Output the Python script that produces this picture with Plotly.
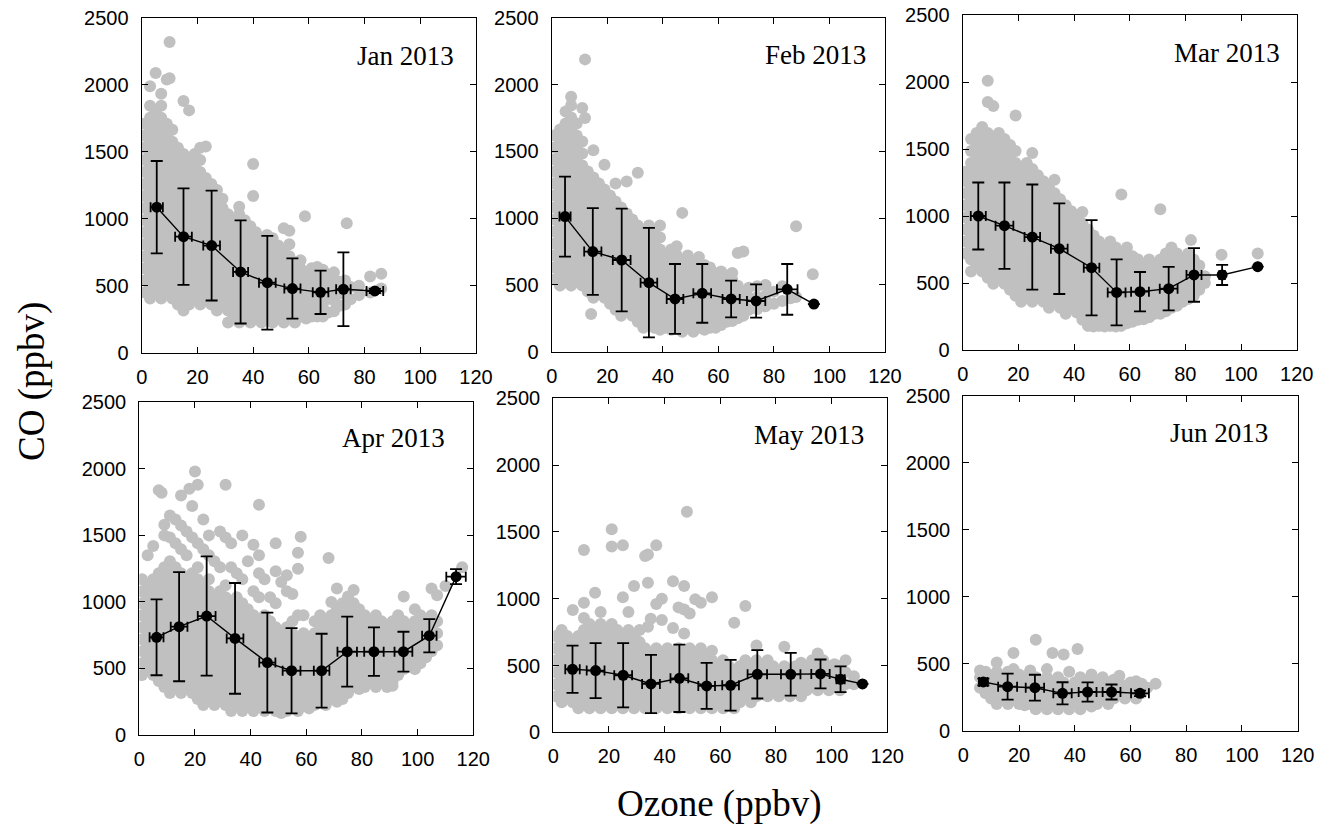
import plotly.graph_objects as go

W, H = 1333, 826

# ---------------- binned means (black) ----------------
jan_x = [5.4, 15.0, 25.1, 35.5, 45.1, 54.1, 64.2, 72.4, 83.7]
jan_y = [1087, 867, 800, 603, 523, 479, 451, 474, 461]
jan_yerr = [345, 360, 410, 385, 350, 225, 162, 275, 15]
jan_xerr = [2.2, 3.0, 3.0, 2.7, 3.0, 2.9, 2.8, 2.6, 3.0]

feb_x = [4.8, 14.8, 25.2, 35.0, 44.4, 54.2, 64.6, 73.6, 84.8, 94.4]
feb_y = [1012, 750, 687, 517, 395, 437, 395, 380, 467, 357]
feb_yerr = [300, 325, 385, 410, 262, 220, 138, 125, 190, 0]
feb_xerr = [2.0, 3.1, 3.2, 3.0, 3.0, 3.2, 3.1, 3.3, 3.7, 0]

mar_x = [5.6, 15.0, 25.0, 34.7, 46.3, 55.3, 63.7, 74.0, 83.1, 93.2, 106.0]
mar_y = [1000, 928, 843, 756, 614, 430, 435, 458, 560, 560, 622]
mar_yerr = [250, 322, 392, 338, 355, 246, 147, 162, 200, 75, 0]
mar_xerr = [2.7, 3.2, 2.8, 3.0, 2.8, 3.2, 3.2, 3.2, 2.7, 1.0, 0]

apr_x = [6.2, 14.3, 24.2, 34.4, 46.0, 54.7, 65.5, 74.7, 84.3, 94.9, 104.2, 113.8]
apr_y = [734, 814, 894, 726, 544, 483, 483, 626, 626, 626, 746, 1190]
apr_yerr = [285, 410, 448, 416, 375, 320, 278, 263, 182, 150, 125, 56]
apr_xerr = [2.5, 3.0, 3.2, 3.0, 2.9, 3.2, 2.8, 3.5, 3.5, 3.2, 2.6, 3.5]

may_x = [6.9, 15.2, 25.1, 35.1, 45.3, 55.1, 63.7, 73.3, 85.3, 96.0, 103.2, 111.1]
may_y = [472, 462, 427, 362, 404, 347, 352, 434, 434, 437, 397, 362]
may_yerr = [177, 206, 240, 218, 252, 172, 190, 181, 160, 108, 97, 0]
may_xerr = [2.6, 3.2, 3.2, 3.2, 3.2, 3.0, 3.0, 3.5, 3.5, 3.3, 1.5, 0]

jun_x = [7.2, 15.9, 25.7, 35.6, 44.6, 53.2, 63.4]
jun_y = [364, 329, 321, 279, 289, 289, 279]
jun_yerr = [25, 97, 97, 83, 72, 56, 20]
jun_xerr = [1.5, 3.4, 3.3, 3.3, 3.2, 3.2, 3.2]

# ---------------- individual observations (grey), listed column by column ----------------
jan_cloud = [
    (1, [450, 540, 630, 720, 810, 900, 990, 1080, 1170, 1260, 1350, 1440, 1530, 1620, 1710]),
    (3, [405, 495, 585, 675, 765, 855, 945, 1035, 1125, 1215, 1305, 1395, 1485, 1575, 1665, 1755, 1845, 1990]),
    (5, [450, 540, 630, 720, 810, 900, 990, 1080, 1170, 1260, 1350, 1440, 1530, 1620, 1710, 1800, 2090]),
    (7, [405, 495, 585, 675, 765, 855, 945, 1035, 1125, 1215, 1305, 1395, 1485, 1575, 1665, 1755, 1845, 1935]),
    (9, [450, 540, 630, 720, 810, 900, 990, 1080, 1170, 1260, 1350, 1440, 1530, 1620, 1710, 2040]),
    (10, [2320, 2050]),
    (11, [405, 495, 585, 675, 765, 855, 945, 1035, 1125, 1215, 1305, 1395, 1485, 1575, 1665]),
    (13, [360, 450, 540, 630, 720, 810, 900, 990, 1080, 1170, 1260, 1350, 1440, 1530]),
    (15, [315, 405, 495, 585, 675, 765, 855, 945, 1035, 1125, 1215, 1305, 1395, 1485, 1880]),
    (17, [360, 450, 540, 630, 720, 810, 900, 990, 1080, 1170, 1260, 1350, 1440, 1810]),
    (19, [405, 495, 585, 675, 765, 855, 945, 1035, 1125, 1215, 1305, 1395, 1485]),
    (21, [360, 450, 540, 630, 720, 810, 900, 990, 1080, 1170, 1260, 1350, 1440, 1530]),
    (23, [405, 495, 585, 675, 765, 855, 945, 1035, 1125, 1215, 1305, 1540]),
    (25, [360, 450, 540, 630, 720, 810, 900, 990, 1080, 1170, 1260]),
    (27, [315, 405, 495, 585, 675, 765, 855, 945, 1035, 1125, 1215]),
    (29, [360, 450, 540, 630, 720, 810, 900, 990, 1080, 1150]),
    (31, [225, 315, 405, 495, 585, 675, 765, 855, 945, 1035]),
    (33, [270, 360, 450, 540, 630, 720, 810, 900, 990]),
    (35, [225, 315, 405, 495, 585, 675, 765, 855, 945, 1035, 1090]),
    (37, [270, 360, 450, 540, 630, 720, 810, 900, 990]),
    (39, [225, 315, 405, 495, 585, 675, 765, 855, 945]),
    (40, [1410, 1170]),
    (41, [270, 360, 450, 540, 630, 720, 810, 900]),
    (43, [225, 315, 405, 495, 585, 675, 765, 855]),
    (45, [270, 360, 450, 540, 630, 720, 810, 880]),
    (47, [225, 315, 405, 495, 585, 675, 765, 855]),
    (49, [270, 360, 450, 540, 630, 720, 800]),
    (51, [225, 315, 405, 495, 585, 675, 765, 930]),
    (53, [270, 360, 450, 540, 630, 720, 810, 910]),
    (55, [225, 315, 405, 495, 585, 675]),
    (57, [270, 360, 450, 540, 630, 690]),
    (58.6, [1020]),
    (59, [255, 315, 405, 495, 585]),
    (61, [270, 360, 450, 540, 630]),
    (63, [270, 315, 405, 495, 585, 640]),
    (65, [270, 360, 450, 540, 620]),
    (67, [300, 405, 495, 585]),
    (69, [310, 390, 470, 550, 600]),
    (71, [350, 440, 530]),
    (73, [360, 450, 540]),
    (73.6, [967]),
    (75, [400, 490]),
    (78, [430, 500]),
    (82, [450, 570]),
    (86, [480, 590]),
]

feb_cloud = [
    (1, [540, 630, 720, 810, 900, 990, 1080, 1170, 1260, 1350, 1440, 1530, 1620]),
    (3, [495, 585, 675, 765, 855, 945, 1035, 1125, 1215, 1305, 1395, 1485, 1575, 1665]),
    (5, [540, 630, 720, 810, 900, 990, 1080, 1170, 1260, 1350, 1440, 1530, 1620, 1710, 1800]),
    (7, [495, 585, 675, 765, 855, 945, 1035, 1125, 1215, 1305, 1395, 1485, 1575, 1665, 1755, 1845, 1910]),
    (9, [540, 630, 720, 810, 900, 990, 1080, 1170, 1260, 1350, 1440, 1530, 1620, 1710]),
    (11, [495, 585, 675, 765, 855, 945, 1035, 1125, 1215, 1305, 1395, 1485, 1575, 1825]),
    (12, [2190, 1750]),
    (13, [450, 540, 630, 720, 810, 900, 990, 1080, 1170, 1260, 1350]),
    (14.2, [282]),
    (15, [405, 495, 585, 675, 765, 855, 945, 1035, 1125, 1215, 1305, 1510]),
    (17, [450, 540, 630, 720, 810, 900, 990, 1080, 1170, 1260]),
    (19, [405, 495, 585, 675, 765, 855, 945, 1035, 1125, 1215, 1400]),
    (21, [360, 450, 540, 630, 720, 810, 900, 990, 1080, 1170]),
    (23, [315, 405, 495, 585, 675, 765, 855, 945, 1035, 1125, 1260]),
    (25, [270, 360, 450, 540, 630, 720, 810, 900, 990, 1080]),
    (27, [315, 405, 495, 585, 675, 765, 855, 945, 1035, 1275]),
    (29, [270, 360, 450, 540, 630, 720, 810, 900, 990]),
    (31, [225, 315, 405, 495, 585, 675, 765, 855, 945, 1340]),
    (33, [180, 270, 360, 450, 540, 630, 720, 810, 900]),
    (35, [225, 315, 405, 495, 585, 675, 765, 855, 945]),
    (37, [180, 270, 360, 450, 540, 630, 720, 810, 900]),
    (39, [165, 225, 315, 405, 495, 585, 675, 765, 855, 945]),
    (41, [180, 270, 360, 450, 540, 630, 720]),
    (43, [165, 225, 315, 405, 495, 585, 675, 765]),
    (45, [180, 270, 360, 450, 540, 630, 720, 790]),
    (47, [150, 225, 315, 405, 495, 585, 675, 1040]),
    (49, [180, 270, 360, 450, 540, 630, 720]),
    (51, [150, 225, 315, 405, 495, 585, 675]),
    (53, [180, 270, 360, 450, 540, 630, 710]),
    (55, [165, 225, 315, 405, 495, 585, 650]),
    (57, [180, 270, 360, 450, 540, 630]),
    (59, [180, 225, 315, 405, 495, 585]),
    (61, [200, 270, 360, 450, 540, 600]),
    (63, [225, 315, 405, 495, 570]),
    (65, [230, 270, 360, 450, 540, 590]),
    (67, [250, 315, 405, 495, 740]),
    (69, [270, 360, 450, 750]),
    (71, [315, 405, 480]),
    (74, [320, 410, 490]),
    (77, [340, 420, 500]),
    (80, [360, 450]),
    (83, [380, 490]),
    (86, [400]),
    (88, [410, 940]),
    (94, [580]),
]

mar_cloud = [
    (1, [720, 810, 900, 990, 1080, 1170, 1260, 1330]),
    (3, [585, 675, 765, 855, 945, 1035, 1125, 1215, 1305, 1395, 1485, 1575]),
    (5, [630, 720, 810, 900, 990, 1080, 1170, 1260, 1350, 1440, 1530, 1620]),
    (7, [585, 675, 765, 855, 945, 1035, 1125, 1215, 1305, 1395, 1485, 1575, 1665]),
    (9, [540, 630, 720, 810, 900, 990, 1080, 1170, 1260, 1350, 1440, 1530, 1620, 1850, 2010]),
    (11, [495, 585, 675, 765, 855, 945, 1035, 1125, 1215, 1305, 1395, 1485, 1575, 1820]),
    (13, [540, 630, 720, 810, 900, 990, 1080, 1170, 1260, 1350, 1440, 1530, 1620]),
    (15, [495, 585, 675, 765, 855, 945, 1035, 1125, 1215, 1305, 1395, 1485, 1575]),
    (17, [450, 540, 630, 720, 810, 900, 990, 1080, 1170, 1260, 1350, 1440, 1530]),
    (19, [405, 495, 585, 675, 765, 855, 945, 1035, 1125, 1215, 1305, 1395, 1485, 1750]),
    (21, [360, 450, 540, 630, 720, 810, 900, 990, 1080, 1170, 1260, 1350]),
    (23, [405, 495, 585, 675, 765, 855, 945, 1035, 1125, 1215, 1305, 1395]),
    (25, [360, 450, 540, 630, 720, 810, 900, 990, 1080, 1170, 1260, 1350, 1470]),
    (27, [405, 495, 585, 675, 765, 855, 945, 1035, 1125, 1215, 1305]),
    (29, [360, 450, 540, 630, 720, 810, 900, 990, 1080, 1170, 1260]),
    (31, [315, 405, 495, 585, 675, 765, 855, 945, 1035, 1125, 1215]),
    (33, [360, 450, 540, 630, 720, 810, 900, 990, 1080, 1170, 1270]),
    (35, [315, 405, 495, 585, 675, 765, 855, 945, 1035, 1125]),
    (37, [270, 360, 450, 540, 630, 720, 810, 900, 990, 1080]),
    (39, [315, 405, 495, 585, 675, 765, 855, 945, 1035]),
    (41, [280, 360, 450, 540, 630, 720, 810, 900, 990]),
    (43, [225, 315, 405, 495, 585, 675, 765, 855, 945, 1030]),
    (45, [180, 270, 360, 450, 540, 630, 720, 810, 900]),
    (47, [175, 225, 315, 405, 495, 585, 675, 765, 855]),
    (49, [180, 270, 360, 450, 540, 630, 720, 810]),
    (51, [175, 225, 315, 405, 495, 585, 675, 765]),
    (53, [180, 270, 360, 450, 540, 630, 720, 810]),
    (55, [175, 225, 315, 405, 495, 585, 675, 765]),
    (57, [180, 270, 360, 450, 540, 630, 720, 1160]),
    (59, [200, 225, 315, 405, 495, 585, 675, 765]),
    (61, [210, 270, 360, 450, 540, 630, 700]),
    (63, [225, 315, 405, 495, 585, 675]),
    (65, [230, 270, 360, 450, 540, 630]),
    (67, [245, 315, 405, 495, 585, 675]),
    (69, [270, 360, 450, 540, 630]),
    (71, [270, 315, 405, 495, 585, 675, 1050]),
    (73, [290, 360, 450, 540, 630, 720]),
    (75, [315, 405, 495, 585, 675, 765]),
    (77, [330, 360, 450, 540, 630, 720]),
    (79, [360, 405, 495, 585, 675]),
    (81, [380, 450, 540, 630, 720]),
    (82, [820]),
    (83, [405, 495, 585, 675]),
    (85, [450, 540, 630]),
    (87, [500, 550]),
    (93, [710]),
    (106, [720]),
]

apr_cloud = [
    (1, [450, 540, 630, 720, 810, 900, 990, 1080, 1170]),
    (3, [495, 585, 675, 765, 855, 945, 1035, 1125, 1350]),
    (5, [450, 540, 630, 720, 810, 900, 990, 1080, 1170, 1420]),
    (7, [405, 495, 585, 675, 765, 855, 945, 1035, 1125, 1215, 1840]),
    (8, [1820]),
    (9, [360, 450, 540, 630, 720, 810, 900, 990, 1080, 1170, 1260, 1500, 1580]),
    (11, [315, 405, 495, 585, 675, 765, 855, 945, 1035, 1125, 1215, 1305, 1485, 1650]),
    (13, [360, 450, 540, 630, 720, 810, 900, 990, 1080, 1170, 1260, 1440, 1620]),
    (15, [315, 405, 495, 585, 675, 765, 855, 945, 1035, 1125, 1215, 1395, 1575, 1800]),
    (17, [360, 450, 540, 630, 720, 810, 900, 990, 1080, 1170, 1350, 1530]),
    (18, [1850]),
    (19, [315, 405, 495, 585, 675, 765, 855, 945, 1035, 1125, 1215, 1485, 1720]),
    (20, [1980]),
    (21, [270, 360, 450, 540, 630, 720, 810, 900, 990, 1080, 1170, 1260, 1440, 1880]),
    (23, [225, 315, 405, 495, 585, 675, 765, 855, 945, 1035, 1125, 1395, 1620]),
    (25, [270, 360, 450, 540, 630, 720, 810, 900, 990, 1080, 1170, 1350, 1500]),
    (27, [225, 315, 405, 495, 585, 675, 765, 855, 945, 1035, 1305]),
    (29, [270, 360, 450, 540, 630, 720, 810, 900, 990, 1080, 1260, 1530]),
    (31, [225, 315, 405, 495, 585, 675, 765, 855, 945, 1035, 1125, 1485, 1880]),
    (33, [180, 270, 360, 450, 540, 630, 720, 810, 900, 990, 1260, 1440]),
    (35, [225, 315, 405, 495, 585, 675, 765, 855, 945, 1035, 1215]),
    (37, [180, 270, 360, 450, 540, 630, 720, 810, 900, 990, 1170, 1500]),
    (39, [225, 315, 405, 495, 585, 675, 765, 855, 945, 1305]),
    (41, [180, 270, 360, 450, 540, 630, 720, 810, 900, 1080, 1430]),
    (43, [225, 315, 405, 495, 585, 675, 765, 855, 1035, 1215, 1350, 1730]),
    (45, [180, 270, 360, 450, 540, 630, 720, 810, 900, 1170]),
    (47, [225, 315, 405, 495, 585, 675, 765, 855, 1035]),
    (49, [180, 270, 360, 450, 540, 630, 720, 810, 990, 1230, 1440]),
    (51, [165, 225, 315, 405, 495, 585, 675, 765, 1150]),
    (53, [180, 270, 360, 450, 540, 630, 720, 810, 1080, 1200]),
    (55, [225, 315, 405, 495, 585, 675, 765, 855, 1060]),
    (57, [180, 270, 360, 450, 540, 630, 720, 900, 1250, 1370]),
    (58, [1490]),
    (59, [225, 315, 405, 495, 585, 675, 765, 900]),
    (61, [200, 270, 360, 450, 540, 630, 720]),
    (63, [225, 315, 405, 495, 585, 675, 765, 855]),
    (65, [270, 360, 450, 540, 630, 720, 810, 900]),
    (67, [225, 315, 405, 495, 585, 675, 765, 855]),
    (68, [1330]),
    (69, [270, 360, 450, 540, 630, 720, 810, 900, 1000]),
    (71, [250, 315, 405, 495, 585, 675, 765, 855, 945, 1100]),
    (73, [270, 360, 450, 540, 630, 720, 810, 900, 990]),
    (75, [315, 405, 495, 585, 675, 765, 855, 945, 1040]),
    (77, [360, 450, 540, 630, 720, 810, 900, 990, 1090]),
    (79, [345, 405, 495, 585, 675, 765, 855, 945]),
    (81, [360, 450, 540, 630, 720, 810, 900]),
    (83, [405, 495, 585, 675, 765, 855]),
    (85, [360, 450, 540, 630, 720, 810, 900]),
    (87, [405, 495, 585, 675, 765, 855]),
    (89, [360, 450, 540, 630, 720, 810]),
    (91, [370, 405, 495, 585, 675, 765, 855]),
    (93, [450, 540, 630, 720, 810, 900]),
    (95, [495, 585, 675, 765, 855, 1040]),
    (97, [540, 630, 720, 810]),
    (99, [495, 585, 675, 765, 855, 945]),
    (101, [540, 630, 720, 810, 900]),
    (103, [585, 675, 765, 855]),
    (105, [630, 720, 810, 900, 1100]),
    (107, [675, 765, 855, 1050]),
    (110, [1120]),
    (116, [1260]),
]

may_cloud = [
    (1, [270, 360, 450, 540, 630, 720]),
    (3, [225, 315, 405, 495, 585, 675, 765]),
    (5, [270, 360, 450, 540, 630, 720]),
    (7, [225, 315, 405, 495, 585, 675, 915]),
    (9, [180, 270, 360, 450, 540, 630, 720]),
    (11, [225, 315, 405, 495, 585, 675, 765, 855, 970, 1365]),
    (13, [180, 270, 360, 450, 540, 630, 720, 810]),
    (15, [225, 315, 405, 495, 585, 675, 765, 1045]),
    (17, [180, 270, 360, 450, 540, 630, 720, 810, 900]),
    (19, [225, 315, 405, 495, 585, 675, 765]),
    (21, [180, 270, 360, 450, 540, 630, 720, 810, 1390, 1520]),
    (23, [225, 315, 405, 495, 585, 675, 765]),
    (25, [180, 270, 360, 450, 540, 630, 720, 1010, 1400]),
    (27, [225, 315, 405, 495, 585, 675, 765, 900]),
    (29, [180, 270, 360, 450, 540, 630, 720, 1095]),
    (31, [225, 315, 405, 495, 585, 675, 765]),
    (33, [180, 270, 360, 450, 540, 630, 1320]),
    (34, [790, 1120, 1330]),
    (35, [225, 315, 405, 495, 585, 850]),
    (37, [180, 270, 360, 450, 540, 630, 960, 1400]),
    (39, [225, 315, 405, 495, 585, 840, 1000]),
    (41, [180, 270, 360, 450, 540, 630]),
    (43, [225, 315, 405, 495, 585, 780, 1130]),
    (45, [180, 270, 360, 450, 540, 630, 935]),
    (47, [225, 315, 405, 495, 585, 740, 920, 1095]),
    (48, [1650]),
    (49, [180, 270, 360, 450, 540, 630, 890]),
    (51, [225, 315, 405, 495, 585, 995]),
    (53, [180, 270, 360, 450, 540, 630, 970]),
    (55, [225, 315, 405, 495, 585]),
    (57, [180, 270, 360, 450, 540, 610, 1010]),
    (59, [225, 315, 405, 495]),
    (61, [180, 270, 360, 450, 540]),
    (63, [225, 315, 405, 495]),
    (65, [180, 270, 360, 450, 820]),
    (67, [225, 315, 405, 495]),
    (69, [270, 360, 450, 540, 945]),
    (71, [225, 315, 405, 495]),
    (73, [270, 360, 450, 540, 650]),
    (75, [315, 405, 495]),
    (77, [270, 360, 450, 540]),
    (79, [315, 405, 495]),
    (81, [270, 360, 450]),
    (83, [315, 405, 495, 640]),
    (85, [270, 360, 450]),
    (87, [315, 405, 495]),
    (89, [270, 360, 450, 520]),
    (91, [315, 405, 495]),
    (93, [360, 450, 540]),
    (95, [315, 405, 495, 590]),
    (97, [360, 450, 540]),
    (99, [315, 405, 495]),
    (101, [360, 450, 510]),
    (103, [315, 405, 495]),
    (105, [360, 450, 540]),
    (108, [360, 420]),
]

jun_cloud = [
    (6, [320, 400, 450]),
    (8, [280, 360, 440]),
    (10, [240, 320, 400]),
    (12, [200, 280, 360, 440, 510]),
    (14, [240, 320, 400]),
    (16, [200, 280, 360, 440]),
    (18, [240, 320, 400, 460, 580]),
    (20, [200, 280, 360, 420]),
    (22, [190, 240, 320, 400]),
    (24, [200, 280, 360, 450]),
    (26, [160, 240, 320, 400, 680]),
    (28, [200, 280, 360]),
    (30, [160, 240, 320, 400, 460]),
    (32, [200, 280, 360, 580]),
    (34, [160, 240, 320, 400]),
    (36, [200, 280, 360, 570]),
    (38, [160, 240, 320, 440]),
    (40, [200, 280, 360]),
    (41, [610]),
    (42, [160, 240, 320, 400]),
    (44, [200, 280, 360]),
    (46, [180, 240, 320, 420]),
    (48, [200, 280, 360]),
    (50, [240, 320, 400]),
    (52, [200, 280, 360]),
    (54, [240, 320, 380]),
    (56, [280, 360, 410]),
    (58, [240, 320]),
    (60, [280, 360]),
    (62, [240, 320, 370]),
    (64, [280, 350]),
    (66, [320]),
    (69, [350]),
]

month_labels = ["Jan 2013", "Feb 2013", "Mar 2013", "Apr 2013", "May 2013", "Jun 2013"]
x_ticks = [0, 20, 40, 60, 80, 100, 120]
y_ticks = [0, 500, 1000, 1500, 2000, 2500]

panels = [
    (jan_cloud, jan_x, jan_y, jan_xerr, jan_yerr),
    (feb_cloud, feb_x, feb_y, feb_xerr, feb_yerr),
    (mar_cloud, mar_x, mar_y, mar_xerr, mar_yerr),
    (apr_cloud, apr_x, apr_y, apr_xerr, apr_yerr),
    (may_cloud, may_x, may_y, may_xerr, may_yerr),
    (jun_cloud, jun_x, jun_y, jun_xerr, jun_yerr),
]

# window-pixel frames of each panel: (left, right, top, bottom)
frames = [
    (141.7, 476.0, 18.0, 352.7),
    (551.7, 885.0, 18.0, 351.7),
    (962.7, 1296.7, 15.0, 350.0),
    (139.3, 473.3, 402.3, 735.0),
    (553.3, 887.3, 398.3, 732.3),
    (963.3, 1297.7, 396.0, 730.7),
]
# panel label anchor (right edge x, centre y) in window pixels
label_pos = [(456, 56), (868, 55), (1282, 53), (447, 438), (866, 435), (1270, 433)]


def px(x):
    return x / W


def py(y):
    return 1 - y / H


GREY = "#c0c0c0"
TICKFONT = dict(family="Liberation Sans, Arial, sans-serif", size=20, color="black")
SERIF = "Liberation Serif, Times New Roman, serif"

fig = go.Figure()
layout = dict(
    width=W, height=H, autosize=False,
    margin=dict(l=0, r=0, t=0, b=0, pad=0),
    paper_bgcolor="white", plot_bgcolor="white",
    showlegend=False, hovermode=False,
)
annotations = []

for i, (cloud, mx, my, mxe, mye) in enumerate(panels):
    n = "" if i == 0 else str(i + 1)
    xa, ya = "x" + n, "y" + n
    cx, cy = [], []
    for xv, ys in cloud:
        for yv in ys:
            cx.append(xv)
            cy.append(yv)
    fig.add_trace(go.Scatter(
        x=cx, y=cy, mode="markers", xaxis=xa, yaxis=ya,
        marker=dict(size=12, color=GREY, line=dict(width=0)),
        hoverinfo="skip",
    ))
    fig.add_trace(go.Scatter(
        x=mx, y=my, mode="lines+markers", xaxis=xa, yaxis=ya,
        line=dict(color="black", width=1.4),
        marker=dict(size=11, color="black"),
        error_y=dict(type="data", array=mye, visible=True, color="black", thickness=1.8, width=6),
        error_x=dict(type="data", array=mxe, visible=True, color="black", thickness=1.8, width=5),
    ))
    l, r, t, b = frames[i]
    axcommon = dict(
        showline=True, linecolor="black", linewidth=1.3, mirror="ticks",
        ticks="inside", ticklen=6, tickwidth=1.2, tickcolor="black",
        showgrid=False, zeroline=False, tickfont=TICKFONT, automargin=False,
        ticklabeloverflow="allow", fixedrange=True,
    )
    layout["xaxis" + n] = dict(
        domain=[px(l), px(r)], range=[0, 120], tickvals=x_ticks,
        ticktext=[str(v) for v in x_ticks], anchor=ya, ticklabelstandoff=6, **axcommon,
    )
    layout["yaxis" + n] = dict(
        domain=[py(b), py(t)], range=[0, 2500], tickvals=y_ticks,
        ticktext=[str(v) for v in y_ticks], anchor=xa, ticklabelstandoff=8, **axcommon,
    )
    lx, ly = label_pos[i]
    annotations.append(dict(
        text=month_labels[i], x=px(lx), y=py(ly), xref="paper", yref="paper",
        xanchor="right", yanchor="middle", showarrow=False,
        font=dict(family=SERIF, size=27, color="black"),
    ))

annotations.append(dict(
    text="Ozone (ppbv)", x=px(719), y=py(804), xref="paper", yref="paper",
    xanchor="center", yanchor="middle", showarrow=False,
    font=dict(family=SERIF, size=37, color="black"),
))
annotations.append(dict(
    text="CO (ppbv)", x=px(32), y=py(382), xref="paper", yref="paper",
    xanchor="center", yanchor="middle", showarrow=False, textangle=-90,
    font=dict(family=SERIF, size=37, color="black"),
))
layout["annotations"] = annotations
fig.update_layout(**layout)

# remove the browser's default 8px page margin so the figure fills the window exactly,
# and hide the interactive toolbar
fig.write_html(
    "out.html",
    config={"displayModeBar": False, "staticPlot": False},
    post_script="document.body.style.margin='0';document.body.style.overflow='hidden';",
)
